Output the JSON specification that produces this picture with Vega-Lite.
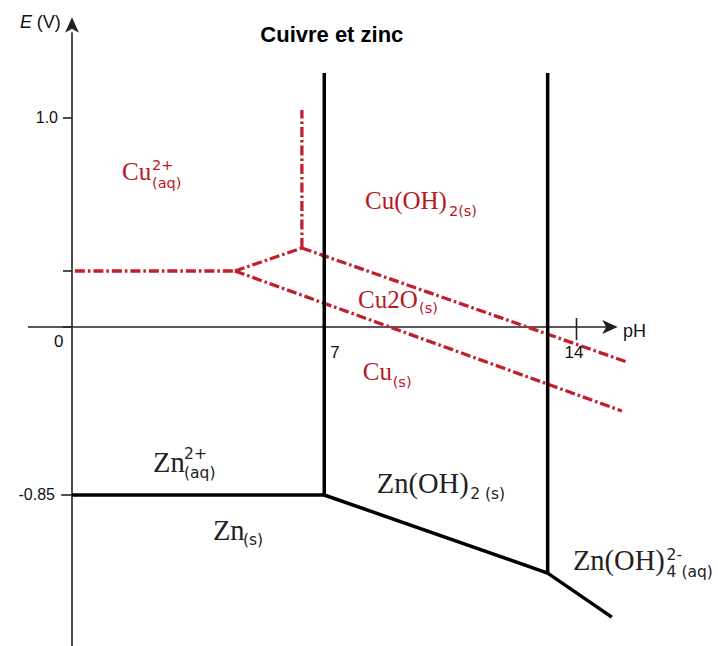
{
  "$schema": "https://vega.github.io/schema/vega-lite/v6.json",
  "width": 718,
  "height": 646,
  "autosize": "none",
  "padding": 0,
  "background": "white",
  "config": {"view": {"stroke": null}},
  "datasets": {
    "red": [
      {"p": 0.08, "e": 0.268, "p2": 4.52, "e2": 0.268},
      {"p": 4.52, "e": 0.268, "p2": 6.38, "e2": 0.378},
      {"p": 6.38, "e": 0.378, "p2": 6.38, "e2": 1.038},
      {"p": 6.38, "e": 0.378, "p2": 15.4, "e2": -0.177},
      {"p": 4.52, "e": 0.268, "p2": 15.26, "e2": -0.425}
    ],
    "zn": [
      {"p": 0, "e": -0.85, "p2": 7, "e2": -0.85},
      {"p": 7, "e": -0.85, "p2": 13.2, "e2": -1.245},
      {"p": 13.2, "e": -1.245, "p2": 14.98, "e2": -1.468},
      {"p": 7, "e": 1.215, "p2": 7, "e2": -0.85},
      {"p": 13.2, "e": 1.215, "p2": 13.2, "e2": -1.245}
    ],
    "axes": [
      {"p": 0, "e": -1.75, "p2": 0, "e2": 1.41},
      {"p": -1.22, "e": 0, "p2": 14.85, "e2": 0},
      {"p": -0.25, "e": 1.0, "p2": 0, "e2": 1.0},
      {"p": -0.25, "e": 0.268, "p2": 0, "e2": 0.268},
      {"p": -0.25, "e": 0, "p2": 0, "e2": 0},
      {"p": -0.3, "e": -0.85, "p2": 0, "e2": -0.85},
      {"p": 14, "e": 0.043, "p2": 14, "e2": -0.066}
    ],
    "arrows": [
      {"d": "up", "p": 0, "e": 1.445},
      {"d": "right", "p": 14.93, "e": 0}
    ],
    "cuMain": [
      {"t": "Cu", "p": 1.387, "e": 0.703},
      {"t": "Cu(OH)", "p": 8.13, "e": 0.565},
      {"t": "Cu2O", "p": 7.94, "e": 0.091},
      {"t": "Cu", "p": 8.07, "e": -0.268}
    ],
    "znMain": [
      {"t": "Zn", "p": 2.25, "e": -0.734},
      {"t": "Zn", "p": 3.91, "e": -1.078},
      {"t": "Zn(OH)", "p": 8.46, "e": -0.84},
      {"t": "Zn(OH)", "p": 13.9, "e": -1.23}
    ],
    "cuSub": [
      {"t": "2+", "p": 2.22, "e": 0.751},
      {"t": "(aq)", "p": 2.22, "e": 0.665},
      {"t": "2(s)", "p": 10.46, "e": 0.531},
      {"t": "(s)", "p": 9.63, "e": 0.067},
      {"t": "(s)", "p": 8.9, "e": -0.304}
    ],
    "znSub": [
      {"t": "2+", "p": 3.11, "e": -0.668},
      {"t": "(aq)", "p": 3.11, "e": -0.764},
      {"t": "(s)", "p": 4.745, "e": -1.103},
      {"t": "2 (s)", "p": 11.05, "e": -0.87},
      {"t": "2-", "p": 16.5, "e": -1.179},
      {"t": "4 (aq)", "p": 16.5, "e": -1.265}
    ],
    "labRight": [
      {"t": "1.0", "p": -0.388, "e": 1.0},
      {"t": "-0.85", "p": -0.472, "e": -0.85}
    ],
    "labCenter": [
      {"t": "0", "p": -0.37, "e": -0.076},
      {"t": "7", "p": 7.3, "e": -0.132},
      {"t": "14", "p": 13.93, "e": -0.132}
    ],
    "labLeft": [
      {"t": "pH", "p": 15.29, "e": -0.025},
      {"t": "(V)", "p": -0.98, "e": 1.455}
    ],
    "labItalic": [
      {"t": "E", "p": -1.443, "e": 1.455}
    ],
    "title": [
      {"t": "Cuivre et zinc", "p": 7.21, "e": 1.397}
    ]
  },
  "encoding": {
    "x": {"field": "p", "type": "quantitative", "scale": {"domain": [0, 14], "range": [72, 576.5], "nice": false, "zero": false}, "axis": null},
    "y": {"field": "e", "type": "quantitative", "scale": {"domain": [-0.85, 0, 1.0], "range": [495, 327, 118], "nice": false, "zero": false}, "axis": null}
  },
  "layer": [
    {
      "data": {"name": "axes"},
      "mark": {"type": "rule", "color": "#222222", "strokeWidth": 1.6},
      "encoding": {"x2": {"field": "p2"}, "y2": {"field": "e2"}}
    },
    {
      "data": {"name": "red"},
      "mark": {"type": "rule", "color": "#c0202a", "strokeWidth": 3.3, "strokeDash": [10, 3, 2.5, 3]},
      "encoding": {"x2": {"field": "p2"}, "y2": {"field": "e2"}}
    },
    {
      "data": {"name": "zn"},
      "mark": {"type": "rule", "color": "#000000", "strokeWidth": 3.5},
      "encoding": {"x2": {"field": "p2"}, "y2": {"field": "e2"}}
    },
    {
      "data": {"name": "arrows"},
      "mark": {"type": "point", "filled": true, "color": "#222222", "opacity": 1, "strokeWidth": 0},
      "encoding": {
        "shape": {"field": "d", "type": "nominal", "scale": {"domain": ["up", "right"], "range": ["M0,-1L0.9,1L0,0.5L-0.9,1Z", "M1,0L-1,0.9L-0.5,0L-1,-0.9Z"]}, "legend": null},
        "size": {"value": 240}
      }
    },
    {
      "data": {"name": "cuMain"},
      "mark": {"type": "text", "font": "Liberation Serif", "fontSize": 25, "align": "left", "baseline": "alphabetic", "color": "#b8161e"},
      "encoding": {"text": {"field": "t"}}
    },
    {
      "data": {"name": "znMain"},
      "mark": {"type": "text", "font": "Liberation Serif", "fontSize": 28.5, "align": "left", "baseline": "alphabetic", "color": "#222222"},
      "encoding": {"text": {"field": "t"}}
    },
    {
      "data": {"name": "cuSub"},
      "mark": {"type": "text", "font": "DejaVu Sans", "fontSize": 14.5, "align": "left", "baseline": "alphabetic", "color": "#b8161e"},
      "encoding": {"text": {"field": "t"}}
    },
    {
      "data": {"name": "znSub"},
      "mark": {"type": "text", "font": "DejaVu Sans", "fontSize": 15.5, "align": "left", "baseline": "alphabetic", "color": "#222222"},
      "encoding": {"text": {"field": "t"}}
    },
    {
      "data": {"name": "labRight"},
      "mark": {"type": "text", "font": "Liberation Sans", "fontSize": 16, "align": "right", "baseline": "middle", "color": "#111111"},
      "encoding": {"text": {"field": "t"}}
    },
    {
      "data": {"name": "labCenter"},
      "mark": {"type": "text", "font": "Liberation Sans", "fontSize": 17, "align": "center", "baseline": "middle", "color": "#111111"},
      "encoding": {"text": {"field": "t"}}
    },
    {
      "data": {"name": "labLeft"},
      "mark": {"type": "text", "font": "Liberation Sans", "fontSize": 18, "align": "left", "baseline": "middle", "color": "#111111"},
      "encoding": {"text": {"field": "t"}}
    },
    {
      "data": {"name": "labItalic"},
      "mark": {"type": "text", "font": "Liberation Sans", "fontSize": 18, "fontStyle": "italic", "align": "left", "baseline": "middle", "color": "#111111"},
      "encoding": {"text": {"field": "t"}}
    },
    {
      "data": {"name": "title"},
      "mark": {"type": "text", "font": "Liberation Sans", "fontSize": 22, "fontWeight": "bold", "align": "center", "baseline": "middle", "color": "#000000"},
      "encoding": {"text": {"field": "t"}}
    }
  ]
}
